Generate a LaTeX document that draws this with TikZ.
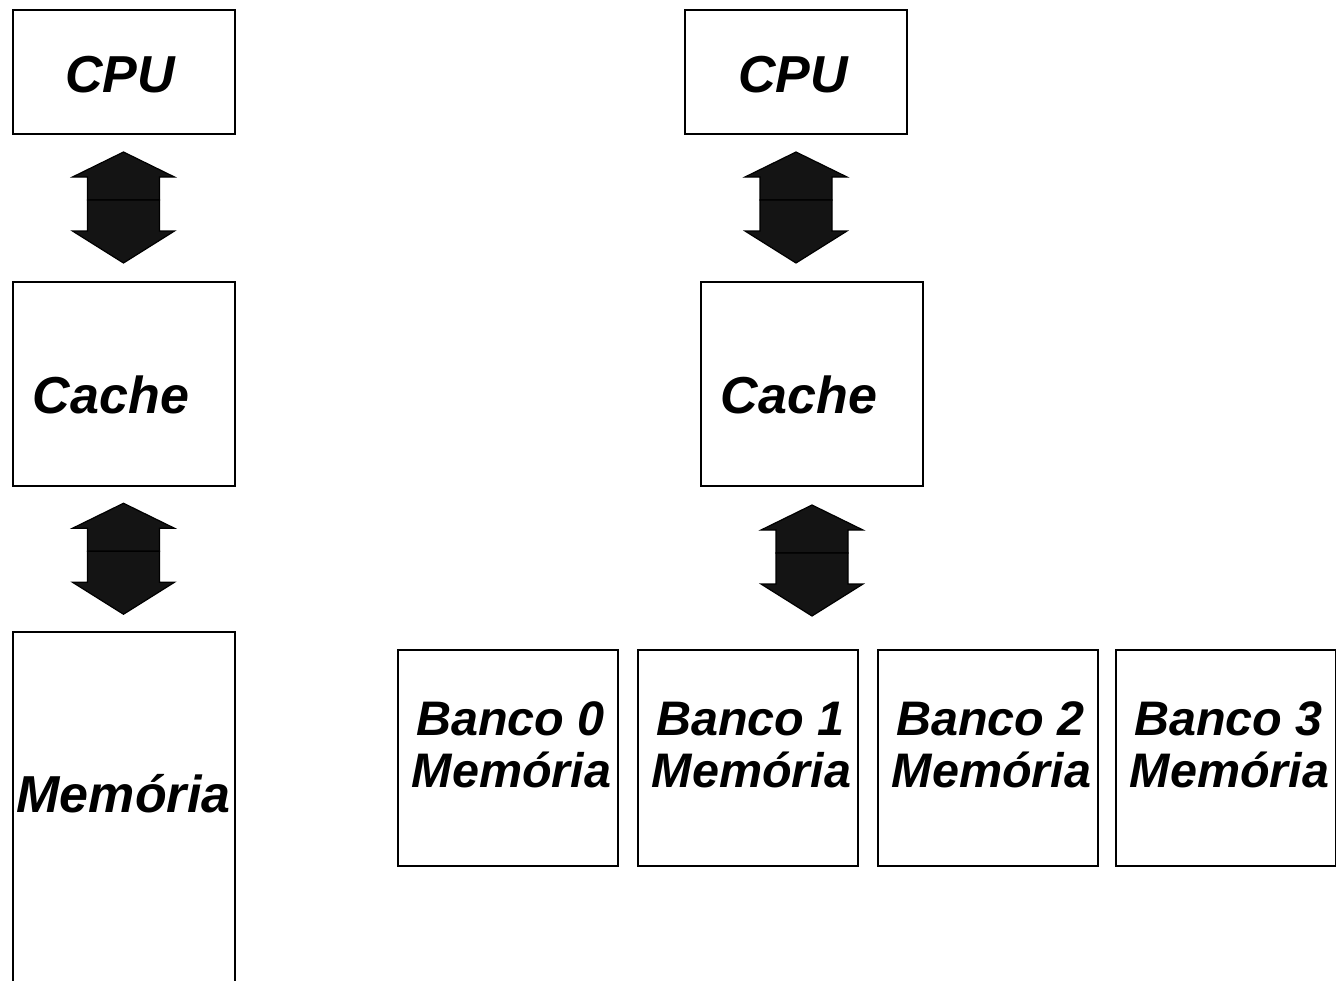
\documentclass[tikz,border=0pt]{standalone}
\usepackage{fontspec}
\setmainfont{Liberation Sans}
\usetikzlibrary{calc}
\begin{document}
\begin{tikzpicture}[x=1pt,y=-1pt,
  box/.style={draw=black,line width=2pt,fill=white,inner sep=0pt},
  lbl/.style={font=\bfseries\itshape\fontsize{52}{52}\selectfont,inner sep=0pt,anchor=base},
  banklbl/.style={font=\bfseries\itshape\fontsize{48.5}{48.5}\selectfont,inner sep=0pt,anchor=base},
  busarrow/.pic={
    \path[draw=black,line width=1.2pt,fill=black!92,line join=miter]
      (0,-55.5) -- (51,-30.5) -- (36,-30.5) -- (36,-7.5) -- (-36,-7.5) -- (-36,-30.5) -- (-51,-30.5) -- cycle;
    \path[draw=black,line width=1.2pt,fill=black!92,line join=miter]
      (0,55.5) -- (51,23.5) -- (36,23.5) -- (36,-7.5) -- (-36,-7.5) -- (-36,23.5) -- (-51,23.5) -- cycle;
  }]
\useasboundingbox (0,0) rectangle (1336,980);
\clip (0,0) rectangle (1336,980);

% single memory system
\node[box,minimum width=222pt,minimum height=124pt] (cpuL) at (123.5,71.5) {};
\node[box,minimum width=222pt,minimum height=204pt] (cacheL) at (123.5,383.5) {};
\node[box,minimum width=222pt,minimum height=370pt] (memL) at (123.5,817) {};
\node[lbl] (cpuLt) at (120,92) {CPU};
\node[lbl] (cacheLt) at (111,413) {Cache};
\node[lbl] (memLt) at (123.5,812) {Memória};
\pic at ($(cpuL.south)!0.5!(cacheL.north)$) {busarrow};
\pic at ($(cacheL.south)!0.5!(memL.north)$) {busarrow};

% interleaved memory system
\node[box,minimum width=222pt,minimum height=124pt] (cpuR) at (796,71.5) {};
\node[box,minimum width=222pt,minimum height=204pt] (cacheR) at (812,383.5) {};
\node[lbl] (cpuRt) at (793,92) {CPU};
\node[lbl] (cacheRt) at (799,413) {Cache};
\pic at ($(cpuR.south)!0.5!(cpuR.south |- cacheR.north)$) {busarrow};

\foreach \i/\cx in {0/507.5,1/747.5,2/987.5,3/1225.5}{
  \node[box,minimum width=220pt,minimum height=216pt] (bank\i) at (\cx,757.5) {};
  \node[banklbl] (bank\i a) at (\cx+3,735) {Banco \i};
  \node[banklbl] (bank\i b) at (\cx+4,787) {Memória};
}
\pic at ($(cacheR.south)+(0,74)$) {busarrow};
\end{tikzpicture}
\end{document}
